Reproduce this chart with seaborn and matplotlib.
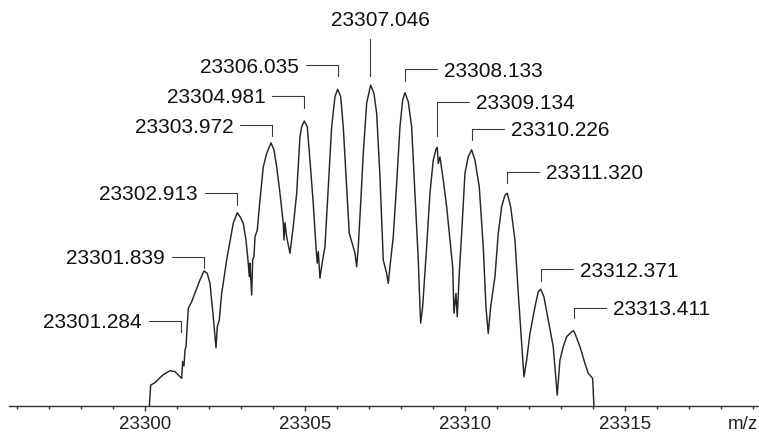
import matplotlib
matplotlib.use("Agg")
import matplotlib.pyplot as plt
import seaborn as sns
import pandas as pd

# profile spectrum (m/z, relative intensity %)
mz = [23300.135, 23300.178, 23300.313, 23300.563, 23300.781, 23300.938, 23301.147,
      23301.178, 23301.219, 23301.250, 23301.281, 23301.353, 23301.459, 23301.563,
      23301.719, 23301.844, 23301.947, 23302.031, 23302.134, 23302.219, 23302.259,
      23302.322, 23302.397, 23302.553, 23302.656, 23302.759, 23302.884, 23302.969,
      23303.072, 23303.156, 23303.228, 23303.259, 23303.281, 23303.334, 23303.366,
      23303.406, 23303.438, 23303.509, 23303.594, 23303.697, 23303.803, 23303.938,
      23304.031, 23304.116, 23304.219, 23304.322, 23304.344, 23304.375, 23304.428,
      23304.531, 23304.634, 23304.741, 23304.844, 23304.897, 23304.978, 23305.072,
      23305.156, 23305.259, 23305.344, 23305.384, 23305.416, 23305.469, 23305.553,
      23305.625, 23305.728, 23305.834, 23305.938, 23306.022, 23306.116, 23306.197,
      23306.303, 23306.384, 23306.491, 23306.563, 23306.616, 23306.666, 23306.741,
      23306.822, 23306.928, 23307.053, 23307.156, 23307.241, 23307.344, 23307.447,
      23307.553, 23307.603, 23307.656, 23307.759, 23307.866, 23307.969, 23308.053,
      23308.125, 23308.228, 23308.334, 23308.438, 23308.541, 23308.594, 23308.616,
      23308.678, 23308.803, 23308.906, 23309.009, 23309.094, 23309.134, 23309.166,
      23309.219, 23309.322, 23309.428, 23309.531, 23309.616, 23309.656, 23309.719,
      23309.759, 23309.822, 23309.897, 23310.000, 23310.103, 23310.209, 23310.313,
      23310.447, 23310.572, 23310.656, 23310.728, 23310.803, 23310.938, 23311.041,
      23311.147, 23311.250, 23311.322, 23311.428, 23311.563, 23311.666, 23311.772,
      23311.844, 23311.928, 23312.031, 23312.188, 23312.291, 23312.366, 23312.469,
      23312.603, 23312.759, 23312.884, 23312.969, 23313.072, 23313.178, 23313.334,
      23313.391, 23313.438, 23313.594, 23313.750, 23313.853, 23313.991, 23314.009,
      23314.031]
intensity = [0.0, 6.5, 7.3, 9.7, 11.0, 10.7, 8.6,
             13.8, 12.5, 17.4, 18.5, 30.4, 32.5, 35.2,
             39.3, 42.1, 41.3, 38.2, 27.8, 18.1, 24.7,
             26.8, 35.1, 45.5, 51.2, 57.0, 60.2, 59.0,
             56.9, 51.7, 44.5, 40.3, 44.5, 34.6, 45.5,
             46.5, 52.7, 54.8, 64.2, 74.5, 78.7, 82.0,
             79.8, 74.5, 66.3, 56.9, 51.7, 57.1, 52.7,
             47.6, 55.9, 66.3, 83.9, 87.0, 88.8, 87.0,
             76.6, 63.1, 49.6, 44.5, 48.1, 39.8, 45.5,
             49.6, 68.3, 87.0, 96.4, 98.7, 96.4, 87.0,
             68.3, 53.8, 50.2, 47.6, 43.4, 49.6, 63.1,
             78.7, 94.3, 100.0, 97.4, 91.2, 71.4, 45.5,
             41.3, 38.2, 43.4, 52.7, 69.4, 87.0, 95.3,
             97.6, 94.8, 87.0, 66.3, 45.5, 30.9, 25.8,
             30.9, 49.6, 66.3, 76.6, 80.0, 80.6, 75.6,
             77.6, 70.4, 62.1, 51.7, 43.4, 28.9, 35.1,
             27.8, 41.3, 53.8, 72.5, 77.7, 79.8, 76.6,
             68.3, 49.6, 30.9, 22.6, 30.9, 40.3, 53.8,
             62.1, 65.7, 66.3, 62.1, 51.7, 35.1, 19.5,
             9.1, 14.3, 22.6, 30.9, 35.6, 36.4, 34.0,
             26.8, 18.5, 3.4, 14.3, 18.5, 21.6, 23.1,
             23.5, 22.6, 18.5, 13.3, 10.2, 8.6, 5.0,
             0.0]

peak_labels = ["23301.284", "23301.839", "23302.913", "23303.972", "23304.981",
               "23306.035", "23307.046", "23308.133", "23309.134", "23310.226",
               "23311.320", "23312.371", "23313.411"]
# where the leader lines touch the trace (first one sits on the shoulder)
marker_mz = [23301.12, 23301.839, 23302.87, 23303.972, 23304.981, 23306.035,
             23307.046, 23308.133, 23309.134, 23310.226, 23311.320, 23312.371,
             23313.411]

# leader line layout: bottom / elbow heights and which side the label sits on
line_lo = [23.1, 42.9, 62.6, 84.1, 92.7, 102.8, 102.8, 101.3, 84.1, 82.9, 69.6, 39.0, 27.3]
line_hi = [26.6, 46.5, 66.4, 87.5, 96.7, 106.2, 114.5, 104.9, 94.8, 86.3, 73.0, 42.6, 30.6]
side = ["left"] * 6 + ["top"] + ["right"] * 6

major_ticks = [23300, 23305, 23310, 23315]
minor_ticks = list(range(23296, 23320))

sns.set_style("white")
plt.rcParams["font.family"] = ["Liberation Sans", "DejaVu Sans"]

fig = plt.figure(figsize=(7.59, 4.34), dpi=100)
ax = fig.add_axes([9 / 759, 28 / 434, 750 / 759, 406 / 434])

df = pd.DataFrame({"mz": mz, "intensity": intensity})
sns.lineplot(data=df, x="mz", y="intensity", ax=ax, sort=False, estimator=None,
             color="#262626", linewidth=1.05)

line_kw = dict(color="#3a3a3a", linewidth=0.8)
for x, lab, lo, hi, s in zip(marker_mz, peak_labels, line_lo, line_hi, side):
    ax.plot([x, x], [lo, hi], **line_kw)
    if s == "top":
        ax.annotate(lab, (x, hi), xytext=(7, 9), textcoords="offset points",
                    ha="center", va="baseline", fontsize=15, color="#111111")
    else:
        d = -1.0 if s == "left" else 1.0
        ax.plot([x, x + d], [hi, hi], **line_kw)
        ax.annotate(lab, (x + d, hi), xytext=(5 * d, -5.3), textcoords="offset points",
                    ha="right" if s == "left" else "left", va="baseline",
                    fontsize=15, color="#111111")

ax.set_xlim(23295.75, 23319.19)
ax.set_ylim(0, 126.5)
ax.set_xticks(major_ticks)
ax.set_xticklabels([str(t) for t in major_ticks])
ax.set_xticks(minor_ticks, minor=True)
ax.set_yticks([])
ax.tick_params(axis="x", which="major", direction="out", length=3.5, width=1.0,
               pad=3.4, labelsize=13.5, color="#333333", labelcolor="#222222", bottom=True)
ax.tick_params(axis="x", which="minor", direction="out", length=2.2, width=1.0,
               color="#333333", bottom=True)
for sp in ["left", "top", "right"]:
    ax.spines[sp].set_visible(False)
ax.spines["bottom"].set_color("#333333")
ax.spines["bottom"].set_linewidth(1.0)
ax.set_ylabel("")
ax.set_xlabel("m/z", fontsize=13.5, color="#222222")
ax.xaxis.set_label_coords(0.979, -0.0236)

fig.savefig("out.png", dpi=100)
